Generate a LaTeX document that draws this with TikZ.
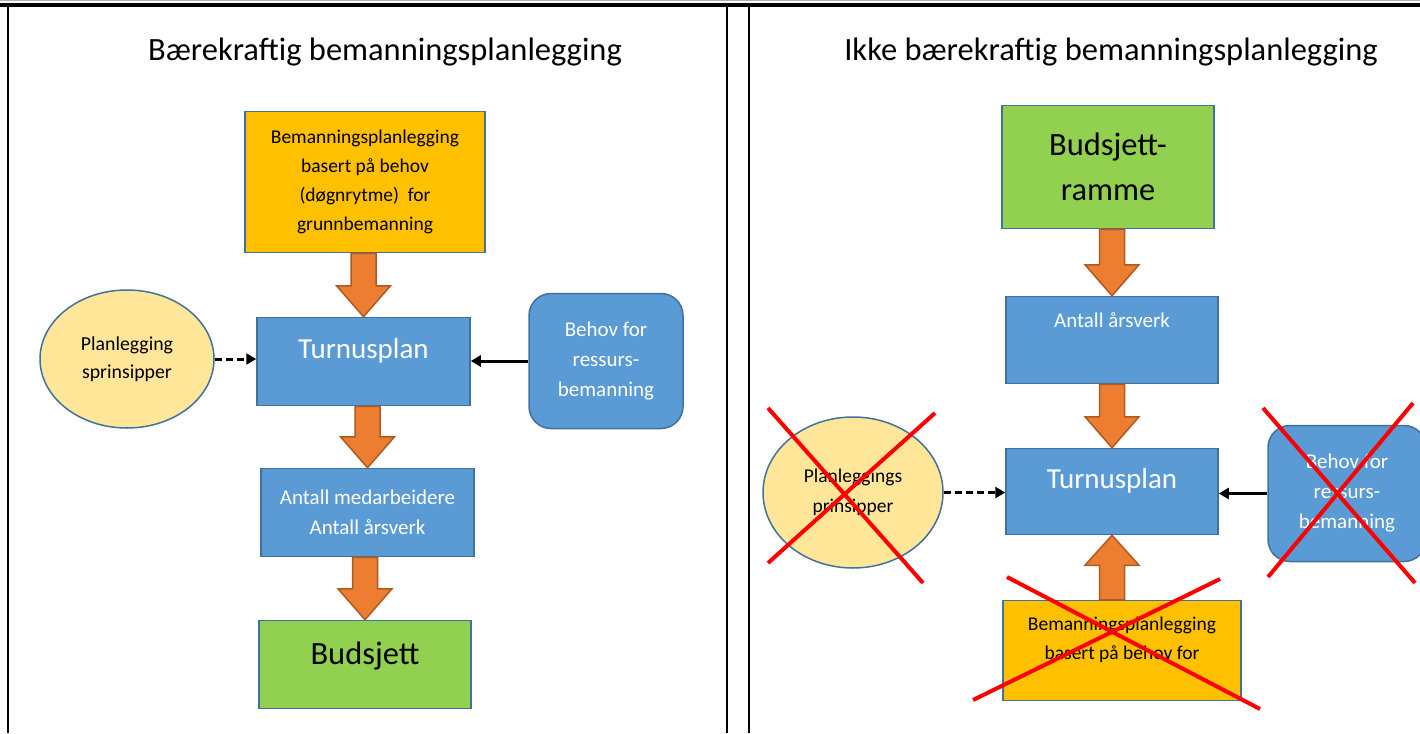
\documentclass[tikz,border=0pt]{standalone}
\usepackage{fontspec}
\setmainfont{Carlito}
\usepackage{tikz}
\usetikzlibrary{
    shapes.geometric,
    arrows.meta,
    positioning,
    calc
}

\definecolor{planorange}{HTML}{FFC000}
\definecolor{boxblue}{HTML}{5B9BD5}
\definecolor{boxgreen}{HTML}{92D050}
\definecolor{ellyellow}{HTML}{FFE699}
\definecolor{edgeblue}{HTML}{41719C}
\definecolor{arrorange}{HTML}{ED7D31}
\definecolor{arredge}{HTML}{AE5A21}

% fat orange arrow between two stacked boxes
\newcommand{\blockdown}[2]{%
  \draw[blockarr] let \p1=(#1.south), \p2=(#2.north) in
    (\x2-12.5pt,\y1) -- (\x2+12.5pt,\y1) -- (\x2+12.5pt,\y2+31pt) -- (\x2+27pt,\y2+31pt)
    -- (\x2,\y2) -- (\x2-27pt,\y2+31pt) -- (\x2-12.5pt,\y2+31pt) -- cycle;}
\newcommand{\blockup}[2]{%
  \draw[blockarr] let \p1=(#1.north), \p2=(#2.south) in
    (\x2-12.5pt,\y1) -- (\x2+12.5pt,\y1) -- (\x2+12.5pt,\y2-30pt) -- (\x2+27pt,\y2-30pt)
    -- (\x2,\y2) -- (\x2-27pt,\y2-30pt) -- (\x2-12.5pt,\y2-30pt) -- cycle;}

\begin{document}
\begin{tikzpicture}[
    x=1pt, y=1pt,
    title/.style={font=\fontsize{32.5}{38}\selectfont},
    planbox/.style={rectangle, draw=edgeblue, line width=1.5pt, fill=planorange,
                    align=center, font=\fontsize{19.5}{29}\selectfont},
    bluebox/.style={rectangle, draw=edgeblue, line width=1.5pt, fill=boxblue,
                    text=white, align=center, minimum width=213pt, minimum height=88pt},
    greenbox/.style={rectangle, draw=edgeblue, line width=1.5pt, fill=boxgreen,
                     align=center, minimum width=212pt, font=\fontsize{32.5}{45}\selectfont},
    prinsipp/.style={ellipse, draw=edgeblue, line width=1.5pt, fill=ellyellow,
                     align=center, inner sep=0pt},
    behovbox/.style={rectangle, rounded corners=22pt, draw=edgeblue, line width=1.5pt,
                     fill=boxblue, text=white, align=center,
                     font=\fontsize{21}{30}\selectfont},
    blockarr/.style={draw=arredge, line width=1.5pt, fill=arrorange, line join=miter},
    dasharr/.style={line width=3pt, dash pattern=on 7pt off 4pt,
                    -{Triangle[length=10pt,width=11pt]}},
    solidarr/.style={line width=3pt, -{Triangle[length=10pt,width=11pt]}},
    strike/.style={red, line width=4pt}
]
    \useasboundingbox (0,0) rectangle (1420,-733);

    % table frame
    \draw[gray!60, line width=1pt] (0,-1) -- (1420,-1);
    \draw[line width=3.5pt] (0,-5) -- (1420,-5);
    \draw[line width=2pt] (8,-5) -- (8,-733);
    \draw[line width=2pt] (727,-5) -- (727,-733);
    \draw[line width=2pt] (749,-5) -- (749,-733);

    % Left: sustainable planning
    \node (titleL) [title] at (385,-52) {Bærekraftig bemanningsplanlegging};
    \node (plan) [planbox, minimum width=240pt, minimum height=141pt] at (365,-182)
        {Bemanningsplanlegging\\basert på behov\\(døgnrytme)~ for\\grunnbemanning};
    \node (turnus) [bluebox, below=63.5pt of plan, xshift=-1.5pt,
                    font=\fontsize{29}{35}\selectfont, text depth=26pt] {Turnusplan};
    \node (antall) [bluebox, below=61.5pt of turnus, xshift=4pt,
                    font=\fontsize{21}{30}\selectfont] {Antall medarbeidere\\Antall årsverk};
    \node (budsjett) [greenbox, below=62.5pt of antall, xshift=-2.5pt,
                      minimum height=88pt, text depth=22pt] {Budsjett};
    \node (prins) [prinsipp, minimum width=174pt, minimum height=138pt,
                   font=\fontsize{19.8}{28}\selectfont] at (127,-359)
        {Planlegging\\sprinsipper};
    \node (behov) [behovbox, minimum width=154pt, minimum height=135pt] at (606,-361)
        {Behov for\\ressurs-\\bemanning};

    \blockdown{plan}{turnus}
    \blockdown{turnus}{antall}
    \blockdown{antall}{budsjett}
    \draw[dasharr] (prins) -- (prins -| turnus.west);
    \draw[solidarr] (behov) -- (behov -| turnus.east);

    % Right: not sustainable planning
    \node (titleR) [title] at (1111,-52) {Ikke bærekraftig bemanningsplanlegging};
    \node (ramme) [greenbox, minimum height=123pt] at (1108,-167) {Budsjett-\\ramme};
    \node (aarsverk) [bluebox, below=66.5pt of ramme, xshift=4pt, minimum width=212pt,
                      minimum height=87pt, font=\fontsize{21}{30}\selectfont,
                      text depth=40pt] {Antall årsverk};
    \node (turnusR) [bluebox, below=63.5pt of aarsverk, minimum width=212pt,
                     minimum height=86pt, font=\fontsize{29}{35}\selectfont,
                     text depth=26pt] {Turnusplan};
    \node (planR) [planbox, below=64.5pt of turnusR, xshift=10pt, minimum width=238pt,
                   minimum height=100pt, text depth=24pt]
        {Bemanningsplanlegging\\basert på behov for};
    \node (prinsR) [prinsipp, minimum width=180pt, minimum height=151pt,
                    font=\fontsize{19.5}{30}\selectfont] at (853,-492.5)
        {Planleggings\\prinsipper};
    \node (behovR) [behovbox, minimum width=158pt, minimum height=136pt] at (1347,-493.5)
        {Behov for\\ressurs-\\bemanning};

    \blockdown{ramme}{aarsverk}
    \blockdown{aarsverk}{turnusR}
    \blockup{planR}{turnusR}
    \draw[dasharr] (prinsR) -- (prinsR -| turnusR.west);
    \draw[solidarr] (behovR) -- (behovR -| turnusR.east);

    % crossed out
    \draw[strike] ($(prinsR)+(-85,84.5)$) -- ($(prinsR)+(70,-90.5)$);
    \draw[strike] ($(prinsR)+(82,79.5)$) -- ($(prinsR)+(-85,-70.5)$);
    \draw[strike] ($(behovR)+(-84,85.5)$) -- ($(behovR)+(68,-89.5)$);
    \draw[strike] ($(behovR)+(66,90.5)$) -- ($(behovR)+(-79,-83.5)$);
    \draw[strike] ($(planR)+(-115,73.5)$) -- ($(planR)+(138,-58.5)$);
    \draw[strike] ($(planR)+(98,71.5)$) -- ($(planR)+(-149,-49.5)$);

\end{tikzpicture}
\end{document}
